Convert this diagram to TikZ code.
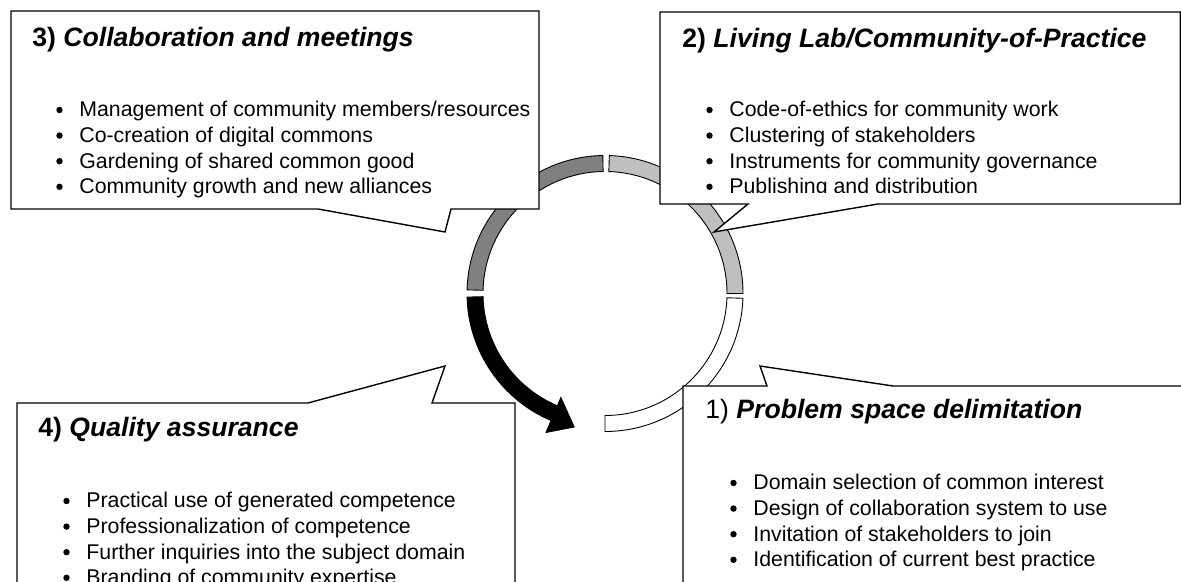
\documentclass[tikz,border=0pt]{standalone}
\usepackage{fontspec}
\setmainfont{Liberation Sans}

\begin{document}
\begin{tikzpicture}[x=0.5pt,y=0.5pt,
  callout/.style={draw,fill=white,line width=0.7pt,line join=miter},
  seg/.style={draw,line width=0.45pt},
  title/.style={anchor=base west,inner sep=0pt,font=\fontsize{13.3}{16}\selectfont\bfseries},
  item/.style={anchor=base west,inner sep=0pt,font=\fontsize{10.65}{12.8}\selectfont}]
\useasboundingbox (0,0) rectangle (1181,582);
\begin{scope}[shift={(605,288.5)}]
\draw[seg,fill=black!25] (88.2:138) arc[start angle=88.2,end angle=0,radius=138] -- (0:122) arc[start angle=0,end angle=88.2,radius=122] -- cycle;
\draw[seg,fill=white] (-2:138) arc[start angle=-2,end angle=-90,radius=138] -- (-90:122) arc[start angle=-90,end angle=-2,radius=122] -- cycle;
\draw[seg,fill=black!50] (90.9:138) arc[start angle=90.9,end angle=178.5,radius=138] -- (178.5:122) arc[start angle=178.5,end angle=90.9,radius=122] -- cycle;
\draw[seg,fill=black] (181.5:138) arc[start angle=181.5,end angle=247,radius=138] -- (247:151) -- (257:137) -- (247:113) -- (247:122) arc[start angle=247,end angle=181.5,radius=122] -- cycle;
\end{scope}
\draw[callout] (11,571) -- (539,571) -- (539,373) -- (451,373) -- (445,350) -- (318,373) -- (11,373) -- cycle;
\draw[callout] (660,570) -- (1180.3,570) -- (1180.3,378) -- (878,378) -- (714,350) -- (748,378) -- (660,378) -- cycle;
\draw[callout] (17,-10) -- (17,179) -- (308,179) -- (445,216) -- (432,179) -- (515,179) -- (515,-10) -- cycle;
\draw[callout] (683,-10) -- (683,196) -- (767,196) -- (760,216) -- (893,196) -- (1195,196) -- (1195,-10) -- cycle;
\node[title] (t3) at (32,535) {3) \textit{Collaboration and meetings}};
\foreach \txt [count=\i] in {Management of community members/resources,Co-creation of digital commons,Gardening of shared common good,Community growth and new alliances}{
  \node[item] (b3-\i) at (56,{490.6-25.6*\i}) {\makebox[11.5pt]{}\txt};
  \fill (b3-\i.base west) ++(3.5,7) circle (3.2);
}
\node[title] (t2) at (682,534) {2) \textit{Living Lab/Community-of-Practice}};
\begin{scope}
\clip (660,389.5) rectangle (1181,570);
\foreach \txt [count=\i] in {Code-of-ethics for community work,Clustering of stakeholders,Instruments for community governance,Publishing and distribution}{
  \node[item] (b2-\i) at (706,{490.6-25.6*\i}) {\makebox[11.5pt]{}\txt};
  \fill (b2-\i.base west) ++(3.5,7) circle (3.2);
}
\end{scope}
\node[title] (t4) at (38,145) {4) \textit{Quality assurance}};
\begin{scope}
\clip (0,0) rectangle (1181,582);
\foreach \txt [count=\i] in {Practical use of generated competence,Professionalization of competence,Further inquiries into the subject domain,Branding of community expertise}{
  \node[item] (b4-\i) at (63,{99.6-25.6*\i}) {\makebox[11.5pt]{}\txt};
  \fill (b4-\i.base west) ++(3.5,7) circle (3.2);
}
\end{scope}
\node[title] (t1) at (705,163) {\mdseries 1) \bfseries\textit{Problem space delimitation}};
\foreach \txt [count=\i] in {Domain selection of common interest,Design of collaboration system to use,Invitation of stakeholders to join,Identification of current best practice}{
  \node[item] (b1-\i) at (730,{117.6-25.6*\i}) {\makebox[11.5pt]{}\txt};
  \fill (b1-\i.base west) ++(3.5,7) circle (3.2);
}
\end{tikzpicture}
\end{document}
